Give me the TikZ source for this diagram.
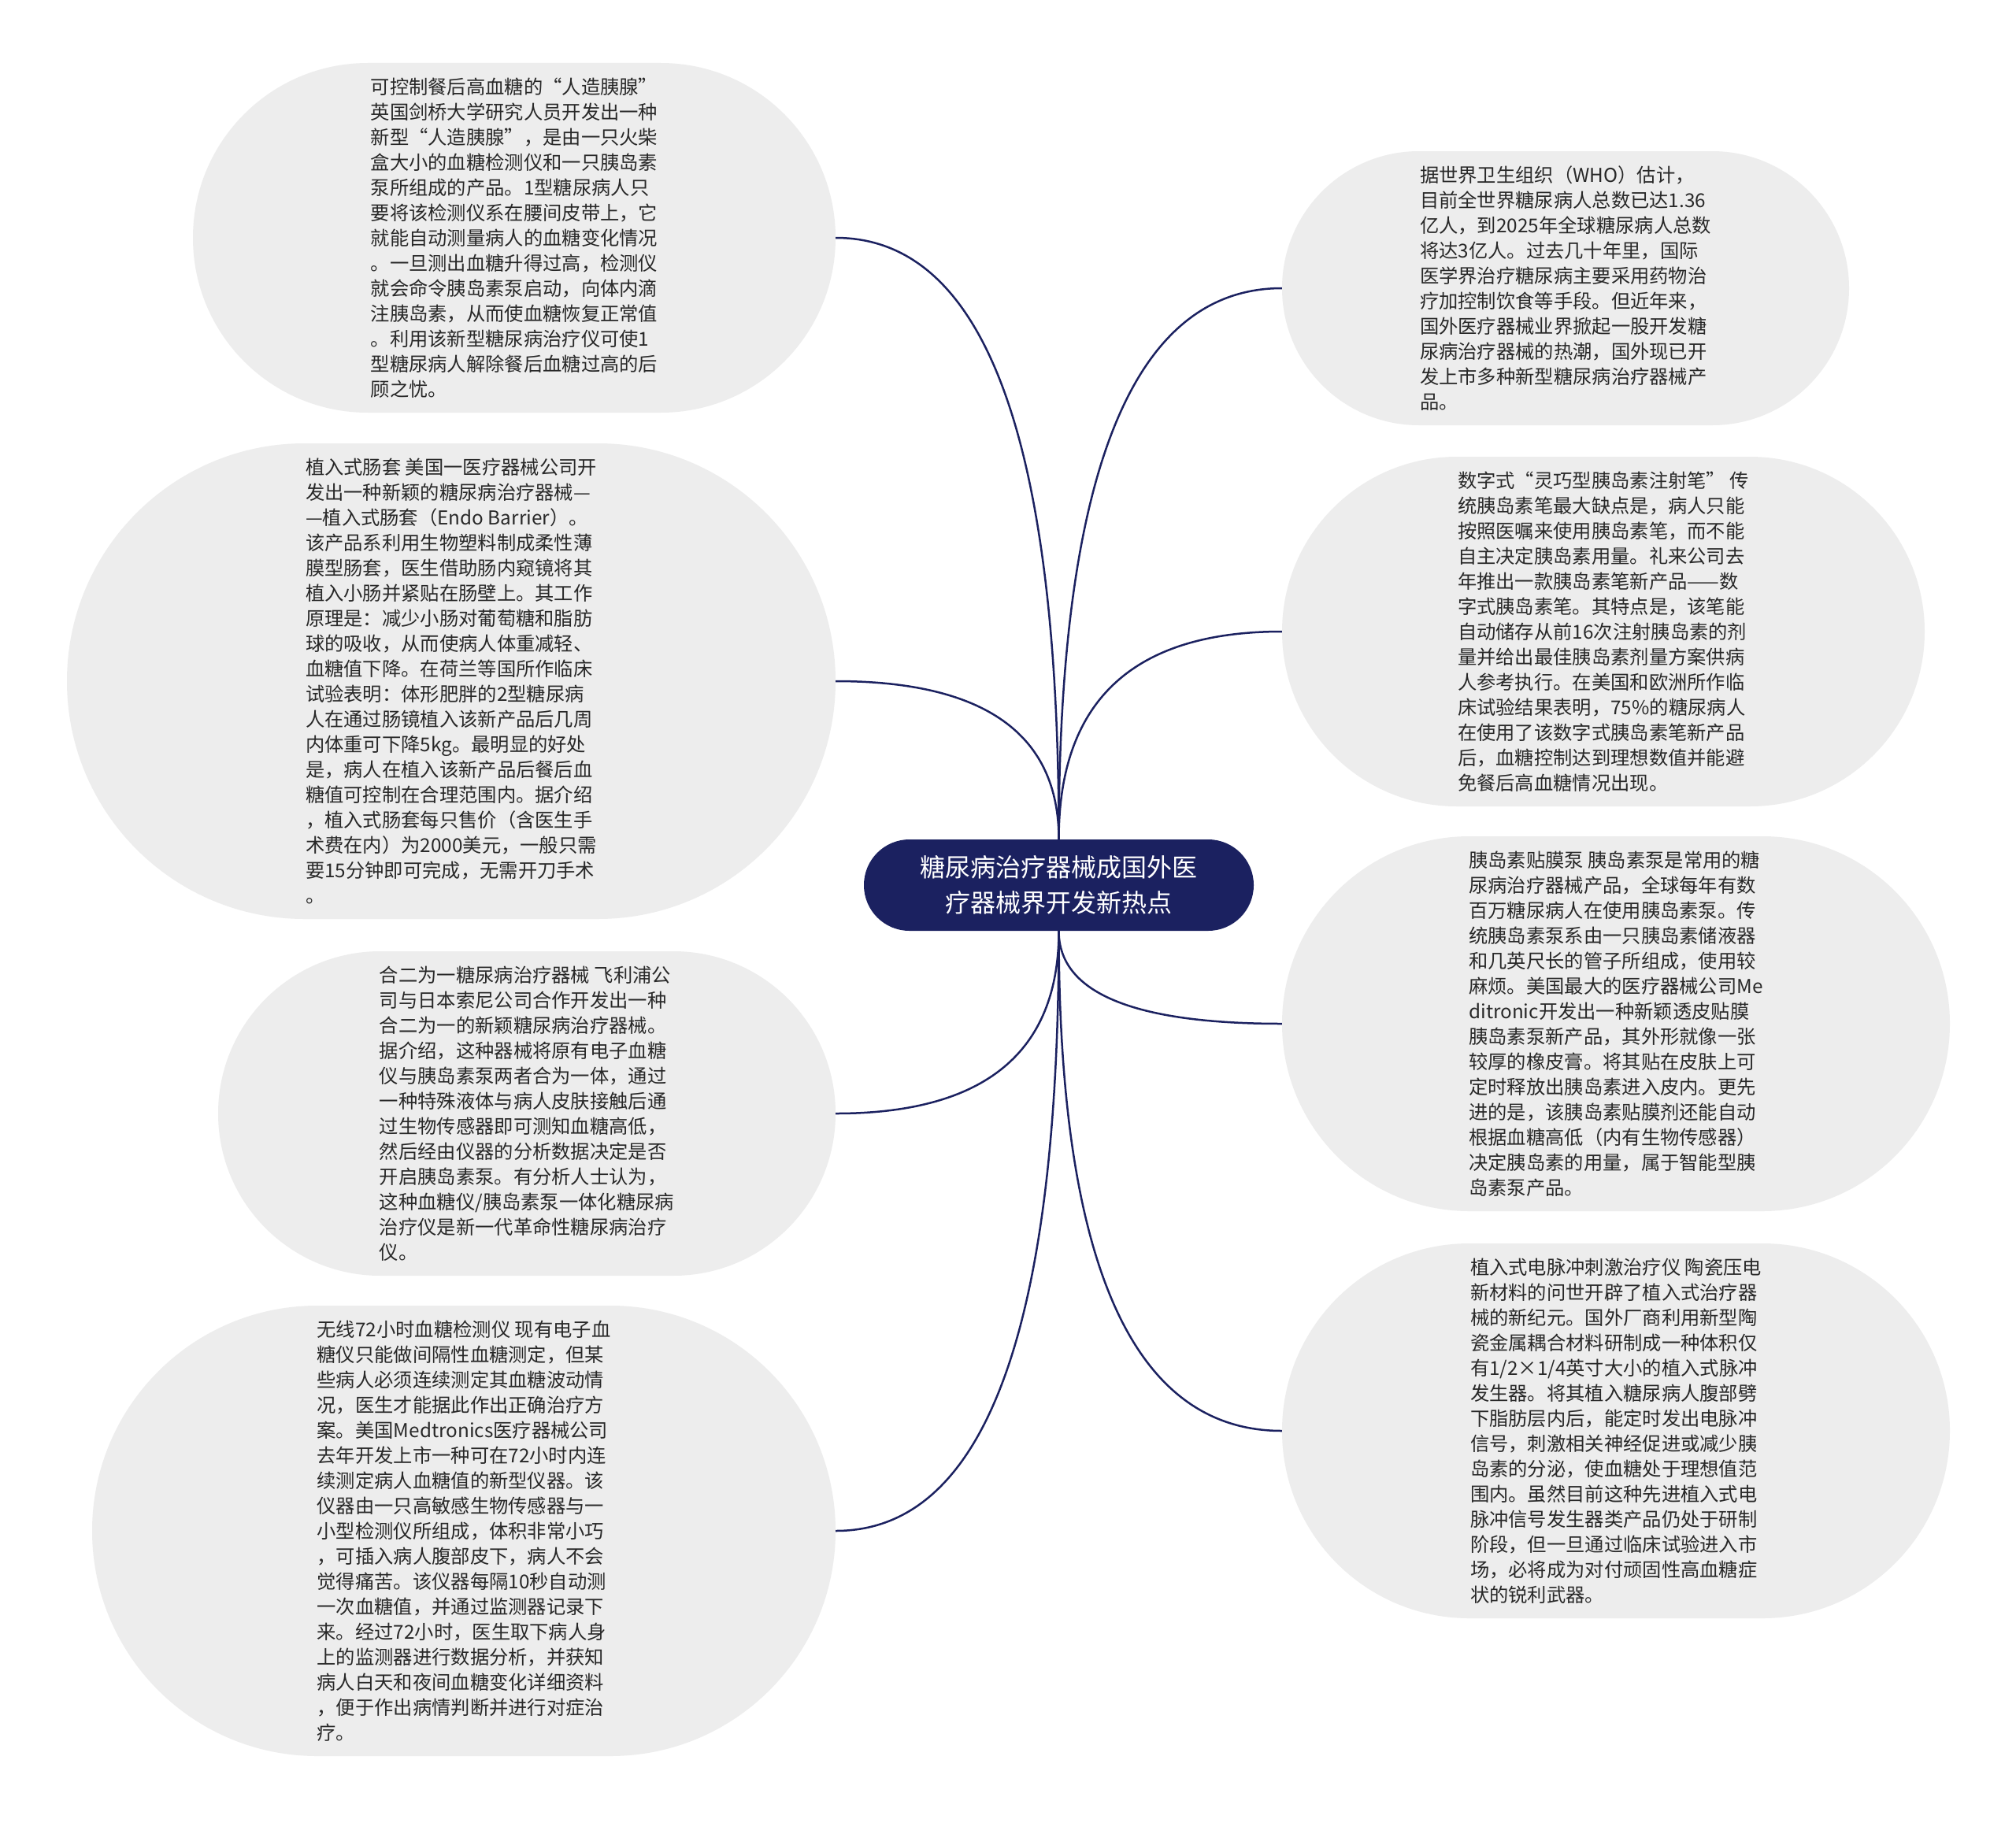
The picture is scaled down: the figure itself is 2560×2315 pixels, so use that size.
\documentclass[tikz,border=0pt]{standalone}
\usepackage{fontspec}
\setmainfont{Noto Sans CJK SC}
\usetikzlibrary{calc}
\definecolor{navy}{RGB}{27,33,96}
\definecolor{leafbg}{RGB}{237,237,237}
\definecolor{leaftext}{RGB}{40,40,40}
\newcommand\mmlink[2]{%
  \path (#1 |- #2) coordinate (mmk);
  \draw[link] (#1) .. controls ($(#1)!0.6667!(mmk)$) and ($(#2)!0.6667!(mmk)$) .. (#2);}
\begin{document}
\begin{tikzpicture}[x=1pt,y=-1pt,
  leaf/.style={rectangle, fill=leafbg, text=leaftext, inner sep=0pt, align=left,
    font=\fontsize{24.3}{32}\selectfont},
  root/.style={rectangle, fill=navy, text=white, inner sep=0pt, align=center,
    font=\fontsize{32}{45}\selectfont, minimum width=495pt, minimum height=116pt,
    rounded corners=57.9pt},
  link/.style={draw=navy, line width=2.5pt}]
\useasboundingbox (0,0) rectangle (2560,2315);
\fill[white] (0,0) rectangle (2560,2315);

\node[root] (c) at (1344.5,1124) {糖尿病治疗器械成国外医\\疗器械界开发新热点};

\node[leaf, minimum width=816pt, minimum height=444pt, rounded corners=221.9pt] (n1) at (653,302) {%
可控制餐后高血糖的“人造胰腺”\\
英国剑桥大学研究人员开发出一种\\
新型“人造胰腺”，是由一只火柴\\
盒大小的血糖检测仪和一只胰岛素\\
泵所组成的产品。1型糖尿病人只\\
要将该检测仪系在腰间皮带上，它\\
就能自动测量病人的血糖变化情况\\
。一旦测出血糖升得过高，检测仪\\
就会命令胰岛素泵启动，向体内滴\\
注胰岛素，从而使血糖恢复正常值\\
。利用该新型糖尿病治疗仪可使1\\
型糖尿病人解除餐后血糖过高的后\\
顾之忧。};

\node[leaf, minimum width=976pt, minimum height=604pt, rounded corners=301.9pt] (n2) at (573,865) {%
植入式肠套 美国一医疗器械公司开\\
发出一种新颖的糖尿病治疗器械—\\
—植入式肠套（Endo Barrier）。\\
该产品系利用生物塑料制成柔性薄\\
膜型肠套，医生借助肠内窥镜将其\\
植入小肠并紧贴在肠壁上。其工作\\
原理是：减少小肠对葡萄糖和脂肪\\
球的吸收，从而使病人体重减轻、\\
血糖值下降。在荷兰等国所作临床\\
试验表明：体形肥胖的2型糖尿病\\
人在通过肠镜植入该新产品后几周\\
内体重可下降5kg。最明显的好处\\
是，病人在植入该新产品后餐后血\\
糖值可控制在合理范围内。据介绍\\
，植入式肠套每只售价（含医生手\\
术费在内）为2000美元，一般只需\\
要15分钟即可完成，无需开刀手术\\
。};

\node[leaf, minimum width=784pt, minimum height=412pt, rounded corners=205.9pt] (n3) at (669,1414) {%
合二为一糖尿病治疗器械 飞利浦公\\
司与日本索尼公司合作开发出一种\\
合二为一的新颖糖尿病治疗器械。\\
据介绍，这种器械将原有电子血糖\\
仪与胰岛素泵两者合为一体，通过\\
一种特殊液体与病人皮肤接触后通\\
过生物传感器即可测知血糖高低，\\
然后经由仪器的分析数据决定是否\\
开启胰岛素泵。有分析人士认为，\\
这种血糖仪/胰岛素泵一体化糖尿病\\
治疗仪是新一代革命性糖尿病治疗\\
仪。};

\node[leaf, minimum width=944pt, minimum height=572pt, rounded corners=285.9pt] (n4) at (589,1944) {%
无线72小时血糖检测仪 现有电子血\\
糖仪只能做间隔性血糖测定，但某\\
些病人必须连续测定其血糖波动情\\
况，医生才能据此作出正确治疗方\\
案。美国Medtronics医疗器械公司\\
去年开发上市一种可在72小时内连\\
续测定病人血糖值的新型仪器。该\\
仪器由一只高敏感生物传感器与一\\
小型检测仪所组成，体积非常小巧\\
，可插入病人腹部皮下，病人不会\\
觉得痛苦。该仪器每隔10秒自动测\\
一次血糖值，并通过监测器记录下\\
来。经过72小时，医生取下病人身\\
上的监测器进行数据分析，并获知\\
病人白天和夜间血糖变化详细资料\\
，便于作出病情判断并进行对症治\\
疗。};

\node[leaf, minimum width=720pt, minimum height=348pt, rounded corners=173.9pt] (n5) at (1988,366) {%
据世界卫生组织（WHO）估计，\\
目前全世界糖尿病人总数已达1.36\\
亿人，到2025年全球糖尿病人总数\\
将达3亿人。过去几十年里，国际\\
医学界治疗糖尿病主要采用药物治\\
疗加控制饮食等手段。但近年来，\\
国外医疗器械业界掀起一股开发糖\\
尿病治疗器械的热潮，国外现已开\\
发上市多种新型糖尿病治疗器械产\\
品。};

\node[leaf, minimum width=816pt, minimum height=444pt, rounded corners=221.9pt] (n6) at (2036,802) {%
数字式“灵巧型胰岛素注射笔” 传\\
统胰岛素笔最大缺点是，病人只能\\
按照医嘱来使用胰岛素笔，而不能\\
自主决定胰岛素用量。礼来公司去\\
年推出一款胰岛素笔新产品——数\\
字式胰岛素笔。其特点是，该笔能\\
自动储存从前16次注射胰岛素的剂\\
量并给出最佳胰岛素剂量方案供病\\
人参考执行。在美国和欧洲所作临\\
床试验结果表明，75\%的糖尿病人\\
在使用了该数字式胰岛素笔新产品\\
后，血糖控制达到理想数值并能避\\
免餐后高血糖情况出现。};

\node[leaf, minimum width=848pt, minimum height=476pt, rounded corners=237.9pt] (n7) at (2052,1300) {%
胰岛素贴膜泵 胰岛素泵是常用的糖\\
尿病治疗器械产品，全球每年有数\\
百万糖尿病人在使用胰岛素泵。传\\
统胰岛素泵系由一只胰岛素储液器\\
和几英尺长的管子所组成，使用较\\
麻烦。美国最大的医疗器械公司Me\\
ditronic开发出一种新颖透皮贴膜\\
胰岛素泵新产品，其外形就像一张\\
较厚的橡皮膏。将其贴在皮肤上可\\
定时释放出胰岛素进入皮内。更先\\
进的是，该胰岛素贴膜剂还能自动\\
根据血糖高低（内有生物传感器）\\
决定胰岛素的用量，属于智能型胰\\
岛素泵产品。};

\node[leaf, minimum width=848pt, minimum height=476pt, rounded corners=237.9pt] (n8) at (2052,1817) {%
植入式电脉冲刺激治疗仪 陶瓷压电\\
新材料的问世开辟了植入式治疗器\\
械的新纪元。国外厂商利用新型陶\\
瓷金属耦合材料研制成一种体积仅\\
有1/2×1/4英寸大小的植入式脉冲\\
发生器。将其植入糖尿病人腹部劈\\
下脂肪层内后，能定时发出电脉冲\\
信号，刺激相关神经促进或减少胰\\
岛素的分泌，使血糖处于理想值范\\
围内。虽然目前这种先进植入式电\\
脉冲信号发生器类产品仍处于研制\\
阶段，但一旦通过临床试验进入市\\
场，必将成为对付顽固性高血糖症\\
状的锐利武器。};

\mmlink{c.north}{n1.east}
\mmlink{c.north}{n2.east}
\mmlink{c.south}{n3.east}
\mmlink{c.south}{n4.east}
\mmlink{c.north}{n5.west}
\mmlink{c.north}{n6.west}
\mmlink{c.south}{n7.west}
\mmlink{c.south}{n8.west}
\end{tikzpicture}
\end{document}
